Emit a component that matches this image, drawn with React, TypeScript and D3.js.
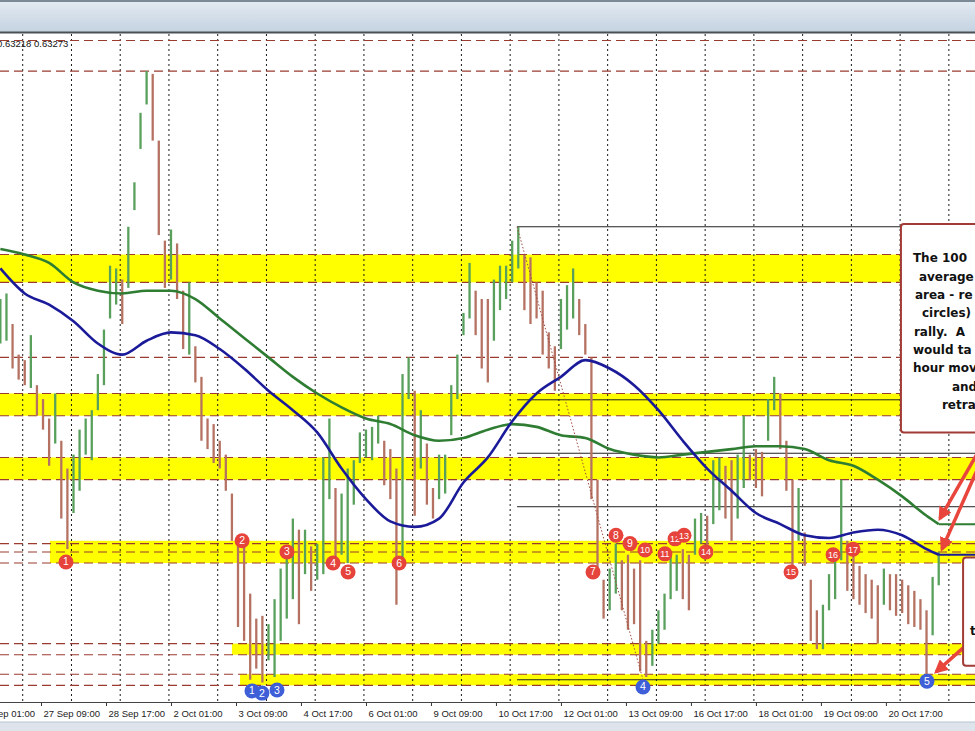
import { useEffect, useRef } from 'react'
import * as d3 from 'd3'

// AUDUSD H1, read in 3-hour steps starting at hour 12 (hour 0 = 26 Sep 01:00), prices x 10000
const barHighs = [
  6420, 6422, 6411, 6400, 6398, 6407, 6389, 6384, 6377, 6386,
  6369, 6359, 6364, 6373, 6377, 6380, 6393, 6409, 6432, 6431,
  6427, 6446, 6462, 6487, 6502, 6501, 6477, 6441, 6445, 6440,
  6423, 6426, 6403, 6392, 6377, 6375, 6369, 6364, 6350, 6335,
  6332, 6314, 6305, 6306, 6303, 6312, 6323, 6328, 6341, 6337,
  6337, 6331, 6332, 6363, 6377, 6352, 6350, 6359, 6362, 6372,
  6373, 6374, 6378, 6369, 6366, 6359, 6393, 6399, 6387, 6380,
  6368, 6352, 6364, 6364, 6389, 6400, 6415, 6433, 6423, 6420,
  6420, 6427, 6432, 6432, 6441, 6446, 6436, 6435, 6426, 6423,
  6408, 6403, 6420, 6425, 6431, 6420, 6411, 6399, 6355, 6319,
  6323, 6332, 6326, 6328, 6323, 6326, 6297, 6301, 6308, 6314,
  6328, 6328, 6330, 6328, 6341, 6343, 6342, 6362, 6363, 6360,
  6362, 6364, 6378, 6364, 6366, 6365, 6384, 6392, 6386, 6369,
  6355, 6352, 6336, 6319, 6308, 6310, 6321, 6327, 6355, 6333,
  6330, 6324, 6321, 6319, 6317, 6323, 6321, 6321, 6319, 6317,
  6315, 6312, 6308, 6320, 6329,
]
const barLows = [
  6404, 6405, 6395, 6391, 6389, 6388, 6378, 6373, 6360, 6368,
  6341, 6330, 6343, 6351, 6364, 6362, 6380, 6389, 6413, 6418,
  6411, 6424, 6452, 6474, 6490, 6477, 6443, 6424, 6427, 6420,
  6402, 6400, 6390, 6369, 6366, 6361, 6359, 6351, 6333, 6302,
  6297, 6283, 6287, 6282, 6290, 6284, 6297, 6305, 6312, 6303,
  6321, 6315, 6319, 6321, 6348, 6326, 6328, 6325, 6346, 6361,
  6363, 6362, 6368, 6353, 6348, 6310, 6324, 6384, 6342, 6359,
  6346, 6341, 6348, 6350, 6371, 6384, 6407, 6413, 6407, 6395,
  6390, 6405, 6416, 6420, 6426, 6431, 6416, 6411, 6413, 6400,
  6395, 6387, 6402, 6409, 6413, 6407, 6400, 6348, 6323, 6305,
  6308, 6314, 6308, 6301, 6303, 6286, 6284, 6288, 6296, 6301,
  6312, 6315, 6312, 6308, 6328, 6332, 6330, 6339, 6344, 6341,
  6333, 6341, 6352, 6355, 6352, 6349, 6369, 6380, 6366, 6351,
  6323, 6333, 6324, 6297, 6294, 6294, 6308, 6312, 6326, 6315,
  6312, 6310, 6307, 6305, 6296, 6310, 6308, 6306, 6307, 6303,
  6302, 6301, 6285, 6299, 6317,
]
const barHour0 = 12
const barSpan = 3

// moving averages read every 12 hours from hour 12, last value at hour 474
const ma200 = [
  6438, 6436, 6433, 6426, 6423, 6422, 6423, 6423, 6420, 6413,
  6406, 6399, 6392, 6386, 6381, 6377, 6375, 6371, 6369, 6370,
  6373, 6375, 6374, 6371, 6370, 6366, 6364, 6363, 6364, 6365,
  6366, 6367, 6367, 6366, 6362, 6360, 6355, 6349, 6342, 6339,
]
const ma100 = [
  6431, 6422, 6418, 6412, 6404, 6400, 6405, 6408, 6407, 6402,
  6395, 6387, 6380, 6372, 6359, 6348, 6340, 6338, 6341, 6354,
  6363, 6376, 6386, 6392, 6398, 6395, 6389, 6380, 6369, 6359,
  6351, 6343, 6339, 6335, 6334, 6336, 6337, 6335, 6330, 6328,
]
const maLastHour = 474

const tickLabels = [
  '26 Sep 01:00', '27 Sep 09:00', '28 Sep 17:00', '2 Oct 01:00', '3 Oct 09:00',
  '4 Oct 17:00', '6 Oct 01:00', '9 Oct 09:00', '10 Oct 17:00', '12 Oct 01:00',
  '13 Oct 09:00', '16 Oct 17:00', '18 Oct 01:00', '19 Oct 09:00', '20 Oct 17:00',
]

// dashed price levels and yellow zones
const levels = [6513, 6502, 6436, 6426, 6399, 6386, 6378, 6363, 6355, 6332, 6329, 6325, 6296, 6292, 6285, 6281]
const zoneHighs = [6436, 6386, 6363, 6333, 6296, 6285]
const zoneLows = [6426, 6378, 6355, 6325, 6292, 6281]
const zoneStartHours = [0, 0, 0, 36.4, 126, 130]

// fib retracement from 10 Oct high to 13 Oct low
const fibHighHour = 266.4
const fibHigh = 6446
const fibLowHour = 328.4
const fibLow = 6283
const fibRatios = [0, 0.382, 0.5, 0.618, 1]

const redNumbers = [1, 2, 3, 4, 5, 6, 7, 8, 9, 10, 11, 12, 13, 14, 15, 16, 17]
const redHours = [44.3, 131, 153.1, 175.8, 183.2, 208.3, 303.8, 315.1, 322, 329.4, 339.2, 344.2, 348.6, 359.4, 401.3, 422, 431.8]
const redPrices = [6325.4, 6333, 6329, 6325, 6321.8, 6325, 6321.8, 6335, 6332, 6329.7, 6328.3, 6333.7, 6335, 6329, 6321.8, 6328, 6330]
const blueNumbers = [1, 2, 3, 4, 5]
const blueHours = [135.9, 140.8, 148.2, 328.4, 468.2]
const bluePrices = [6279, 6278.2, 6279.3, 6280.4, 6282.5]

const arrowFromHours = [495, 495, 485.9]
const arrowFromPrices = [6367, 6362, 6294.4]
const arrowToHours = [474.6, 475.6, 472.7]
const arrowToPrices = [6341, 6330, 6285.8]

const noteLines = ['The 100', 'average', 'area - re', 'circles)', 'rally.  A', 'would ta', 'hour mov', 'and', 'retra']
const noteOffsets = [12, 18, 14, 21, 13, 12, 12, 51, 41]

const W = 975
const H = 731
const plotTop = 34
const plotBottom = 702

export default function App() {
  const svgRef = useRef<SVGSVGElement>(null)

  useEffect(() => {
    if (!svgRef.current) return
    const svg = d3.select(svgRef.current)
    svg.selectAll('*').remove()

    const x = d3.scaleLinear().domain([0, 480]).range([-24, 950.9])
    const y = d3.scaleLinear().domain([6275, 6515]).range([plotBottom, 35])

    const defs = svg.append('defs')
    const grad = defs.append('linearGradient').attr('id', 'hdr')
      .attr('x1', 0).attr('x2', 0).attr('y1', 0).attr('y2', 1)
    grad.append('stop').attr('offset', '0%').attr('stop-color', '#e4ebf3')
    grad.append('stop').attr('offset', '100%').attr('stop-color', '#c4d2e0')
    defs.append('clipPath').attr('id', 'plotClip').append('rect')
      .attr('x', 0).attr('y', plotTop).attr('width', W).attr('height', plotBottom - plotTop)
    defs.append('marker').attr('id', 'arrowHead')
      .attr('viewBox', '0 0 10 10').attr('refX', 8).attr('refY', 5)
      .attr('markerWidth', 4).attr('markerHeight', 4).attr('orient', 'auto')
      .append('path').attr('d', 'M0,0 L10,5 L0,10 z').attr('fill', '#e8453c')

    svg.append('rect').attr('width', W).attr('height', H).attr('fill', '#ffffff')

    // header strip
    svg.append('rect').attr('width', W).attr('height', 32).attr('fill', 'url(#hdr)')
    svg.append('line').attr('x1', 0).attr('x2', W).attr('y1', 1).attr('y2', 1)
      .attr('stroke', '#7c8997').attr('stroke-width', 2)
    svg.append('line').attr('x1', 0).attr('x2', W).attr('y1', 32.5).attr('y2', 32.5)
      .attr('stroke', '#4b5057').attr('stroke-width', 2)

    const g = svg.append('g').attr('clip-path', 'url(#plotClip)')

    // yellow zones
    zoneHighs.forEach((hi, i) => {
      const x0 = Math.max(0, x(zoneStartHours[i]))
      g.append('rect')
        .attr('x', x0).attr('y', y(hi))
        .attr('width', W - x0).attr('height', y(zoneLows[i]) - y(hi))
        .attr('fill', '#ffff00')
    })

    // vertical dotted grid, every 24 bars
    d3.range(23, 492, 24).forEach(h => {
      g.append('line')
        .attr('x1', x(h)).attr('x2', x(h)).attr('y1', plotTop).attr('y2', plotBottom)
        .attr('stroke', '#1a1a1a').attr('stroke-width', 1).attr('stroke-dasharray', '2,3')
    })

    // dashed levels
    levels.forEach(p => {
      g.append('line')
        .attr('x1', 0).attr('x2', W).attr('y1', y(p)).attr('y2', y(p))
        .attr('stroke', '#9a3b30').attr('stroke-width', 1.1).attr('stroke-dasharray', '9,5')
    })

    // fib lines
    fibRatios.forEach(r => {
      const p = fibHigh - (fibHigh - fibLow) * r
      g.append('line')
        .attr('x1', x(fibHighHour)).attr('x2', W).attr('y1', y(p)).attr('y2', y(p))
        .attr('stroke', '#222').attr('stroke-width', 1)
    })

    // price bars
    barHighs.forEach((hi, k) => {
      const lo = barLows[k]
      const mid = (hi + lo) / 2
      const prevMid = k > 0 ? (barHighs[k - 1] + barLows[k - 1]) / 2 : mid
      const bx = x(barHour0 + barSpan * k)
      g.append('line')
        .attr('x1', bx).attr('x2', bx).attr('y1', y(hi)).attr('y2', y(lo))
        .attr('stroke', mid >= prevMid ? '#58a05c' : '#b57262')
        .attr('stroke-width', 2.3)
    })

    // moving averages
    const maHour = (j: number, n: number) => (j === n - 1 ? maLastHour : 12 + 12 * j)
    const line = d3.line<number>()
      .x((_, j) => x(maHour(j, ma200.length)))
      .y(d => y(d))
      .curve(d3.curveMonotoneX)
    g.append('path').datum(ma200).attr('d', line)
      .attr('fill', 'none').attr('stroke', '#2e7d32').attr('stroke-width', 2.6)
    g.append('path').datum(ma100).attr('d', line)
      .attr('fill', 'none').attr('stroke', '#1b1b9a').attr('stroke-width', 2.6)
    g.append('line')
      .attr('x1', x(maLastHour)).attr('x2', W)
      .attr('y1', y(ma200[ma200.length - 1])).attr('y2', y(ma200[ma200.length - 1]))
      .attr('stroke', '#2e7d32').attr('stroke-width', 2)
    g.append('line')
      .attr('x1', x(maLastHour)).attr('x2', W)
      .attr('y1', y(ma100[ma100.length - 1])).attr('y2', y(ma100[ma100.length - 1]))
      .attr('stroke', '#1b1b9a').attr('stroke-width', 2)

    // fib trend line
    g.append('line')
      .attr('x1', x(fibHighHour)).attr('y1', y(fibHigh))
      .attr('x2', x(fibLowHour)).attr('y2', y(fibLow))
      .attr('stroke', '#a04a40').attr('stroke-width', 1).attr('stroke-dasharray', '1.5,2')

    // numbered markers
    const marker = (hx: number, p: number, n: number, fill: string) => {
      g.append('circle').attr('cx', x(hx)).attr('cy', y(p)).attr('r', 7.5).attr('fill', fill)
      g.append('text').attr('x', x(hx)).attr('y', y(p) + 3.5)
        .attr('text-anchor', 'middle').attr('fill', '#fff')
        .attr('font-family', 'Liberation Sans, Arial, sans-serif')
        .attr('font-size', n > 9 ? 9 : 10.5)
        .text(String(n))
    }
    redNumbers.forEach((n, i) => marker(redHours[i], redPrices[i], n, '#e5433b'))
    blueNumbers.forEach((n, i) => marker(blueHours[i], bluePrices[i], n, '#3e5fd8'))

    // note box (top right)
    const bx = x(455.4)
    const bTop = y(6447)
    svg.append('rect').attr('x', bx).attr('y', bTop).attr('width', 120).attr('height', y(6372) - bTop)
      .attr('rx', 3).attr('fill', '#fff').attr('stroke', '#a23a35').attr('stroke-width', 2)
    noteLines.forEach((t, i) => {
      svg.append('text').attr('x', bx + noteOffsets[i]).attr('y', bTop + 38.5 + i * 18.3)
        .attr('font-family', 'DejaVu Sans, Verdana, sans-serif').attr('font-weight', 'bold')
        .attr('font-size', 12).attr('fill', '#111')
        .style('white-space', 'pre')
        .text(t)
    })

    // arrows
    arrowFromHours.forEach((h, i) => {
      svg.append('line')
        .attr('x1', x(h)).attr('y1', y(arrowFromPrices[i]))
        .attr('x2', x(arrowToHours[i])).attr('y2', y(arrowToPrices[i]))
        .attr('stroke', '#e8453c').attr('stroke-width', 3.5)
        .attr('marker-end', 'url(#arrowHead)')
    })

    // second note box (lower right)
    const b2x = x(486)
    const b2Top = y(6327)
    svg.append('rect').attr('x', b2x).attr('y', b2Top).attr('width', 60).attr('height', y(6288) - b2Top)
      .attr('rx', 3).attr('fill', '#fff').attr('stroke', '#a23a35').attr('stroke-width', 2)
    svg.append('text').attr('x', b2x + 7).attr('y', b2Top + 78)
      .attr('font-family', 'DejaVu Sans, Verdana, sans-serif').attr('font-weight', 'bold')
      .attr('font-size', 12).attr('fill', '#111').text('t')

    // price header text
    svg.append('text').attr('x', -3).attr('y', 47)
      .attr('font-family', 'Liberation Sans, Arial, sans-serif').attr('font-size', 9.5)
      .attr('fill', '#111').text('0.63218 0.63273')

    // time axis
    const axis = d3.axisBottom(x)
      .tickValues(tickLabels.map((_, i) => i * 32))
      .tickFormat((_, i) => tickLabels[i])
      .tickSize(4)
    const ax = svg.append('g').attr('transform', `translate(0,${plotBottom})`).call(axis)
    ax.select('.domain').remove()
    ax.selectAll('.tick line').attr('stroke', '#333')
    ax.selectAll('.tick text')
      .attr('text-anchor', 'start').attr('x', 2).attr('y', 8).attr('dy', '0.71em')
      .attr('font-family', 'Liberation Sans, Arial, sans-serif').attr('font-size', 9.5)
      .attr('fill', '#222')
    svg.append('line').attr('x1', 0).attr('x2', W).attr('y1', plotBottom + 0.5).attr('y2', plotBottom + 0.5)
      .attr('stroke', '#444').attr('stroke-width', 1)

    // bottom strip
    svg.append('rect').attr('x', 0).attr('y', 722).attr('width', W).attr('height', 9).attr('fill', '#dde4ec')
    svg.append('line').attr('x1', 0).attr('x2', W).attr('y1', 722).attr('y2', 722)
      .attr('stroke', '#b8c4d0').attr('stroke-width', 1)
  }, [])

  return (
    <svg
      ref={svgRef}
      width={W}
      height={H}
      style={{ position: 'absolute', left: 0, top: 0, overflow: 'hidden' }}
    />
  )
}
